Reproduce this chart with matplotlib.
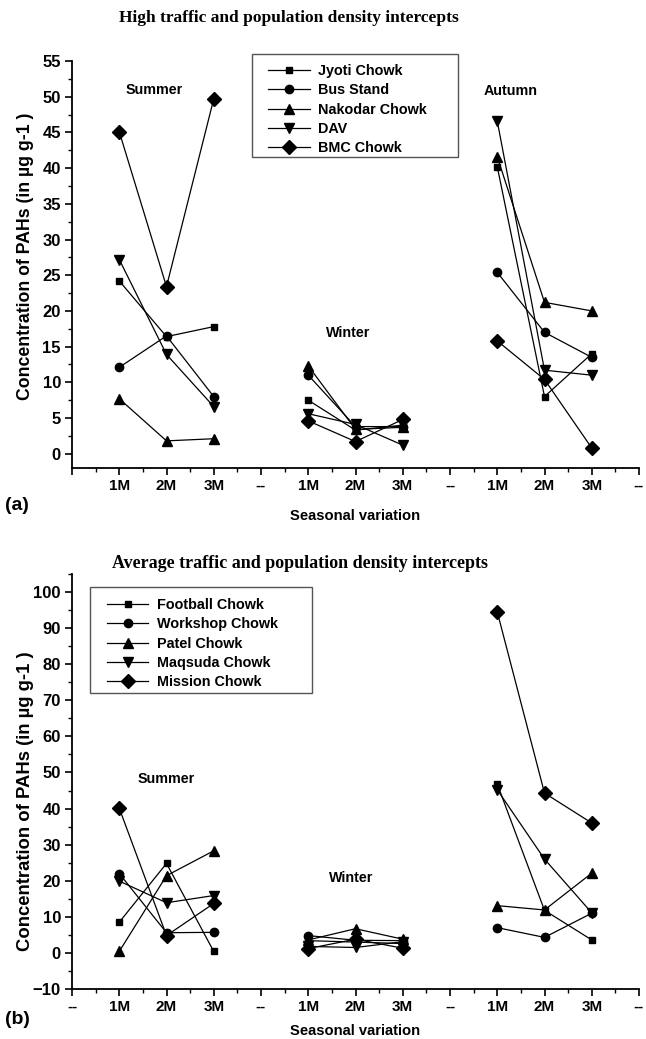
import numpy as np
import matplotlib
matplotlib.use("Agg")
import matplotlib.pyplot as plt
from matplotlib.patches import Rectangle
from matplotlib.ticker import MultipleLocator, FixedLocator, FixedFormatter

nan = np.nan

# x positions: Summer 1-3, Winter 5-7, Autumn 9-11 (4, 8 are separators "--")
positions = list(range(1, 12))
tick_labels_a = ["", "1M", "2M", "3M", "--", "1M", "2M", "3M", "--", "1M", "2M", "3M", "--"]
tick_labels_b = ["--", "1M", "2M", "3M", "--", "1M", "2M", "3M", "--", "1M", "2M", "3M", "--"]

# Panel (a): high traffic and population density intercepts
names_a = ["Jyoti Chowk", "Bus Stand", "Nakodar Chowk", "DAV", "BMC Chowk"]
jyoti = [24.2, 16.4, 17.8, nan, 7.5, 3.3, 4.0, nan, 40.2, 8.0, 14.0]
bus_stand = [12.1, 16.5, 8.0, nan, 11.0, 3.8, 3.8, nan, 25.4, 17.0, 13.5]
nakodar = [7.7, 1.8, 2.1, nan, 12.3, 3.4, 3.7, nan, 41.6, 21.2, 20.0]
dav = [27.2, 13.9, 6.6, nan, 5.6, 4.1, 1.2, nan, 46.6, 11.7, 11.0]
bmc = [45.1, 23.4, 49.7, nan, 4.6, 1.7, 4.8, nan, 15.8, 10.4, 0.8]
series_a = [jyoti, bus_stand, nakodar, dav, bmc]

# Panel (b): average traffic and population density intercepts
names_b = ["Football Chowk", "Workshop Chowk", "Patel Chowk", "Maqsuda Chowk", "Mission Chowk"]
football = [8.5, 24.8, 0.4, nan, 3.4, 3.0, 2.6, nan, 46.8, 11.8, 3.6]
workshop = [22.0, 5.6, 5.7, nan, 4.8, 3.5, 3.4, nan, 7.0, 4.3, 11.0]
patel = [0.4, 21.4, 28.3, nan, 3.6, 6.7, 3.8, nan, 13.1, 11.9, 22.1]
maqsuda = [19.9, 13.9, 15.9, nan, 1.8, 1.5, 3.1, nan, 45.2, 26.0, 11.1]
mission = [40.1, 4.8, 13.7, nan, 1.2, 3.8, 1.3, nan, 94.5, 44.3, 36.0]
series_b = [football, workshop, patel, maqsuda, mission]

markers = ["s", "o", "^", "v", "D"]
msizes = [5, 6, 7.5, 7.5, 7]

plt.rcParams["font.family"] = ["Liberation Sans", "DejaVu Sans"]
plt.rcParams["font.weight"] = "bold"

W, H = 646, 1039
fig = plt.figure(figsize=(W / 100, H / 100), dpi=100)

LEFT, RIGHT = 72, 639

def fx(px):
    return px / W

def fy(py):
    return 1 - py / H

def style_axes(ax, ylim, ymaj, ymin_, labels, top, bottom, ylab_size, ylab_center, xlab_top):
    ax.set_xlim(0, 12)
    ax.set_ylim(*ylim)
    ax.spines["top"].set_visible(False)
    ax.spines["right"].set_visible(False)
    for s in ("left", "bottom"):
        ax.spines[s].set_linewidth(1.3)
    ax.xaxis.set_major_locator(FixedLocator(range(0, 13)))
    ax.xaxis.set_major_formatter(FixedFormatter(labels))
    ax.xaxis.set_minor_locator(MultipleLocator(0.5))
    ax.yaxis.set_major_locator(MultipleLocator(ymaj))
    ax.yaxis.set_minor_locator(MultipleLocator(ymin_))
    ax.tick_params(which="major", direction="out", length=5, width=1.2, pad=3)
    ax.tick_params(which="minor", direction="out", length=3, width=1.0)
    ax.tick_params(axis="x", labelsize=11)
    ax.tick_params(axis="y", labelsize=12)
    for lab in ax.get_xticklabels() + ax.get_yticklabels():
        lab.set_fontweight("bold")
    hpx = bottom - top
    ax.set_ylabel("Concentration of PAHs (in µg g-1 )", fontsize=ylab_size, fontweight="bold")
    ax.yaxis.set_label_coords((34 - LEFT) / (RIGHT - LEFT), (bottom - ylab_center) / hpx)
    ax.set_xlabel("Seasonal variation", fontsize=10.6, fontweight="bold")
    ax.xaxis.set_label_coords((355 - LEFT) / (RIGHT - LEFT), -(xlab_top - bottom) / hpx)

def add_legend(ax, hx, ty, box, handlelength, textpad):
    leg = ax.legend(loc="upper left", bbox_to_anchor=(fx(hx), fy(ty)),
                    bbox_transform=fig.transFigure, frameon=False,
                    prop={"weight": "bold", "size": 10.4}, handlelength=handlelength,
                    borderpad=0, labelspacing=0.37, handletextpad=textpad, borderaxespad=0)
    x0, y0, x1, y1 = box
    fig.add_artist(Rectangle((fx(x0), fy(y1)), fx(x1 - x0), (y1 - y0) / H,
                             transform=fig.transFigure, fill=False,
                             edgecolor="#555555", lw=1.0))
    return leg

def season(text, x, y):
    fig.text(fx(x), fy(y), text, ha="center", va="center", fontsize=10.3, fontweight="bold")

# ---------------- Panel (a) ----------------
A_TOP, A_BOT = 61, 468
ax1 = fig.add_axes([fx(LEFT), fy(A_BOT), fx(RIGHT - LEFT), (A_BOT - A_TOP) / H])
for vals, name, m, ms in zip(series_a, names_a, markers, msizes):
    ax1.plot(positions, vals, color="black", lw=0.9, marker=m, ms=ms,
             mfc="black", mec="black", label=name, clip_on=False)
style_axes(ax1, (-2, 55), 5, 2.5, tick_labels_a, A_TOP, A_BOT, 12.7, 256, 509)
add_legend(ax1, 268, 64, (252, 54, 458, 157), 2.9, 0.55)
season("Summer", 154, 90)
season("Winter", 348, 333)
season("Autumn", 511, 91)
fig.text(fx(289), fy(18), "High traffic and population density intercepts",
         ha="center", va="center", fontsize=12.5, fontweight="bold",
         family=["Liberation Serif", "DejaVu Serif"])
fig.text(fx(5), fy(505), "(a)", ha="left", va="center", fontsize=14, fontweight="bold")

# ---------------- Panel (b) ----------------
B_TOP, B_BOT = 574, 989
ax2 = fig.add_axes([fx(LEFT), fy(B_BOT), fx(RIGHT - LEFT), (B_BOT - B_TOP) / H])
for vals, name, m, ms in zip(series_b, names_b, markers, msizes):
    ax2.plot(positions, vals, color="black", lw=0.9, marker=m, ms=ms,
             mfc="black", mec="black", label=name, clip_on=False)
style_axes(ax2, (-10, 105), 10, 5, tick_labels_b, B_TOP, B_BOT, 13.3, 801, 1024)
add_legend(ax2, 107, 598, (90, 587, 312, 693), 2.85, 0.6)
season("Summer", 166, 779)
season("Winter", 351, 878)
fig.text(fx(300), fy(564), "Average traffic and population density intercepts",
         ha="center", va="center", fontsize=13, fontweight="bold",
         family=["Liberation Serif", "DejaVu Serif"])
fig.text(fx(5), fy(1020), "(b)", ha="left", va="center", fontsize=14, fontweight="bold")

fig.savefig("out.png", dpi=100)
